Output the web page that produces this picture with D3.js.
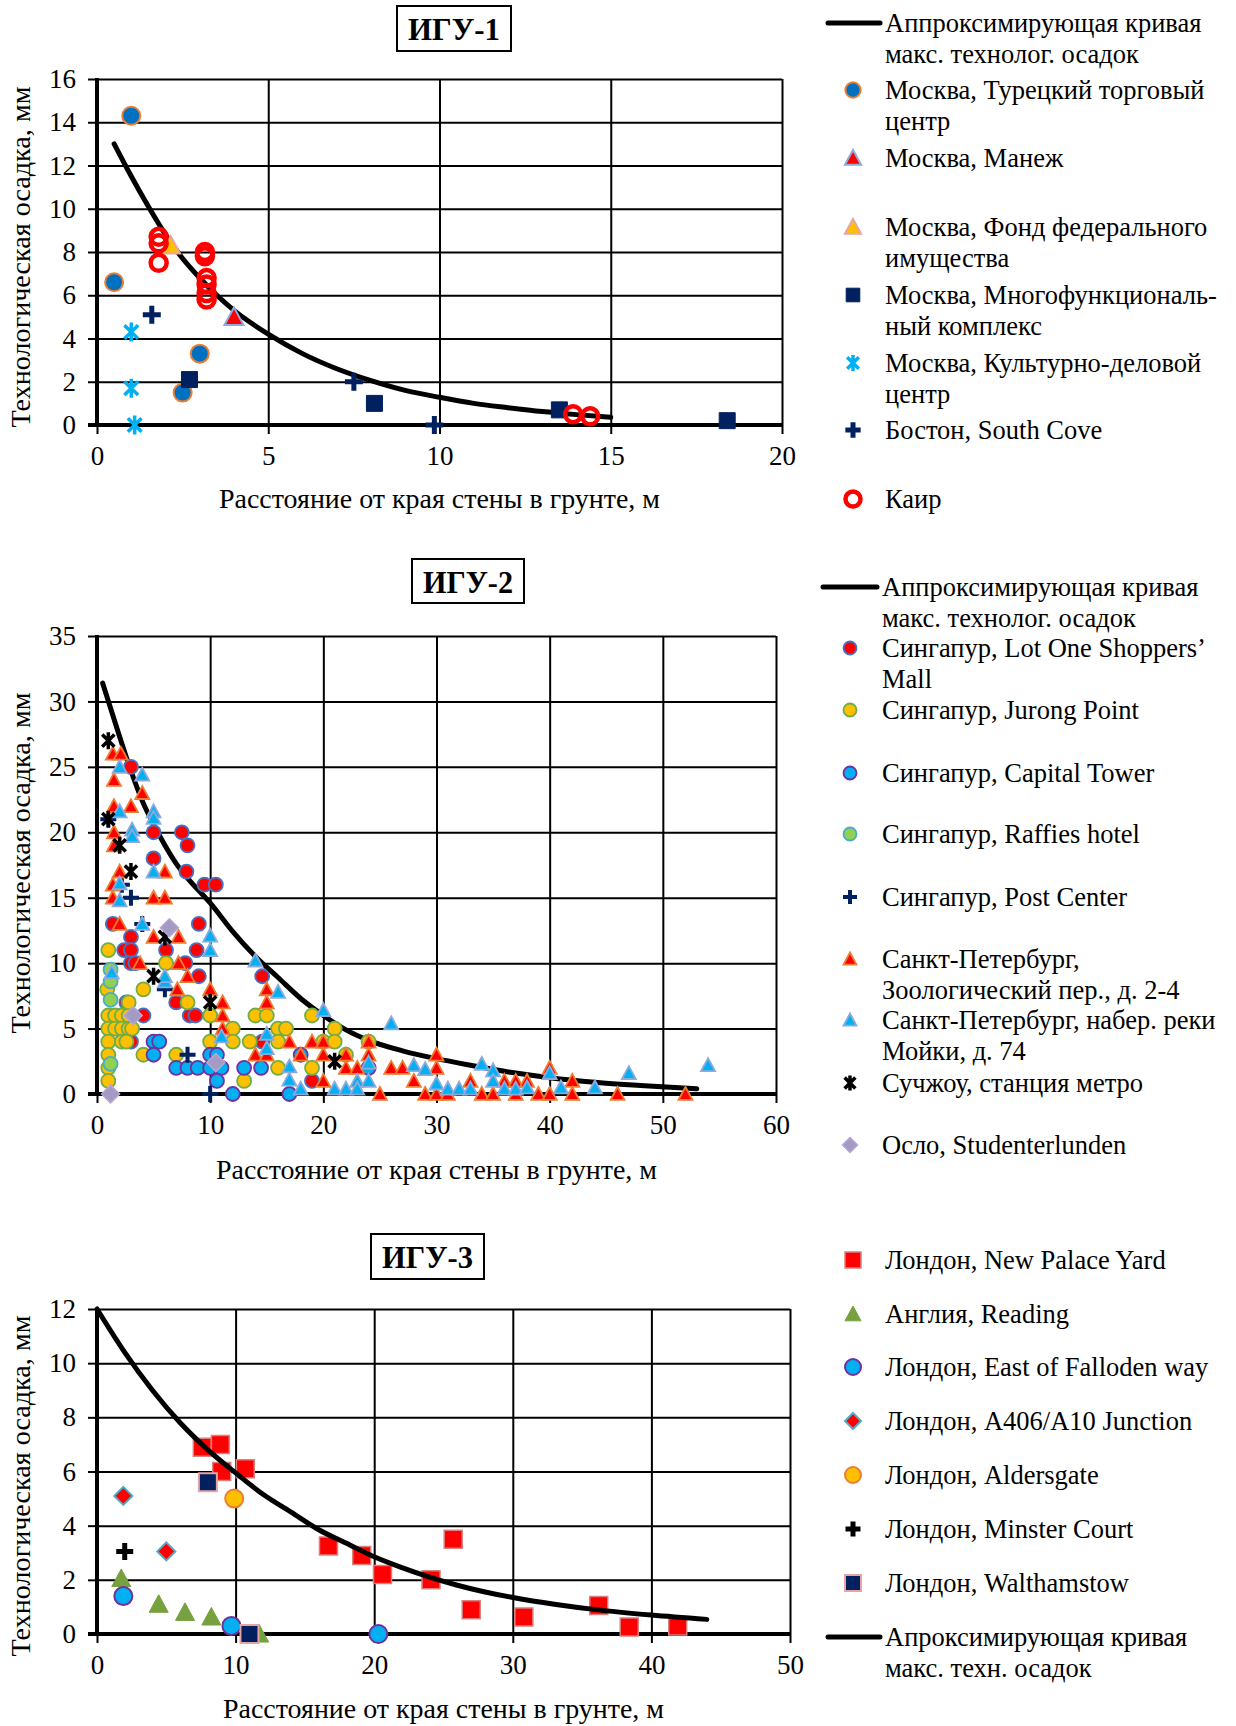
<!DOCTYPE html>
<html lang="ru">
<head>
<meta charset="UTF-8">
<title>Технологическая осадка — ИГУ-1, ИГУ-2, ИГУ-3</title>
<script src="https://d3js.org/d3.v7.min.js"></script>
<style>
  html, body { margin: 0; padding: 0; background: #fff; }
  svg { display: block; font-family: "Liberation Serif", "Times New Roman", serif; }
  svg text { font-family: "Liberation Serif", "Times New Roman", serif; }
</style>
</head>
<body>
<svg id="chart" width="1236" height="1726"></svg>
<script>
// ===== ИГУ-1 =====
const igu1XTicks = [0, 5, 10, 15, 20];
const igu1YTicks = [0, 2, 4, 6, 8, 10, 12, 14, 16];
const igu1CurveX = [0.5, 1, 1.5, 2, 2.5, 3, 3.5, 4, 5, 6, 7, 8, 9, 10, 11, 12, 13, 14, 15];
const igu1CurveY = [13.0, 11.5, 10.1, 8.8, 7.7, 6.8, 6.0, 5.3, 4.2, 3.3, 2.6, 2.05, 1.6, 1.28, 1.0, 0.8, 0.62, 0.48, 0.36];
const turkX = [1.0, 0.5, 3.0, 2.5];
const turkY = [14.3, 6.6, 3.3, 1.5];
const manegeX = [4.0];
const manegeY = [5.0];
const fondX = [2.15];
const fondY = [8.3];
const multiX = [2.7, 8.1, 13.5, 18.4];
const multiY = [2.1, 1.0, 0.7, 0.2];
const kultX = [1.0, 1.0, 1.1];
const kultY = [4.3, 1.7, 0.0];
const bostonX = [1.6, 7.5, 9.85];
const bostonY = [5.1, 2.0, 0.0];
const cairoX = [1.8, 1.8, 1.8, 3.15, 3.15, 3.2, 3.2, 3.2, 3.2, 13.9, 14.4];
const cairoY = [8.7, 8.4, 7.5, 8.0, 7.8, 6.8, 6.5, 6.1, 5.8, 0.5, 0.4];

// ===== ИГУ-2 =====
const igu2XTicks = [0, 10, 20, 30, 40, 50, 60];
const igu2YTicks = [0, 5, 10, 15, 20, 25, 30, 35];
const igu2CurveX = [0.5, 2, 3, 4, 5, 6, 7, 8, 10, 12, 14, 16, 18, 20, 22, 24, 27, 30, 33, 37, 40, 44, 48, 53];
const igu2CurveY = [31.4, 27.3, 24.7, 22.4, 20.6, 19.0, 17.6, 16.5, 14.6, 12.4, 10.5, 8.9, 7.3, 6.0, 4.9, 4.1, 3.3, 2.7, 2.2, 1.6, 1.25, 0.9, 0.65, 0.4];
const lotOneX = [3, 5, 7.5, 8, 5, 7.9, 9.5, 10.5, 1.4, 9, 3, 2.4, 3, 6.1, 8.8, 3, 3.4, 7.8, 9, 14.6, 7, 2.6, 8.2, 8.7, 4.1, 3, 14.6, 19];
const lotOneY = [25, 20, 20, 19, 18, 17, 16, 16, 13, 13, 12, 11, 11, 11, 11, 10, 10, 10, 9, 9, 7, 7, 6, 6, 6, 4, 4, 1];
const jurongX = [1, 0.9, 1, 1, 1, 1, 1, 1, 1.6, 2.2, 2.8, 1.6, 2.2, 2.8, 2.2, 2.6, 2.8, 3.1, 4.1, 4.1, 6.1, 7, 8, 10, 10, 12, 12, 13, 13.5, 14, 15, 16, 16.7, 16, 16, 19, 19, 20, 21, 21, 22, 24];
const jurongY = [11, 8, 6, 5, 4, 3, 2, 1, 6, 6, 6, 5, 5, 5, 4, 4, 7, 5, 8, 3, 10, 3, 7, 6, 4, 5, 4, 1, 4, 6, 6, 5, 5, 4, 2, 6, 2, 4, 5, 4, 3, 4];
const capitalX = [5, 5.5, 5, 7, 8, 8.9, 10, 10.6, 10, 11, 10.6, 12, 13, 14.5, 17, 18, 24];
const capitalY = [4, 4, 3, 2, 2, 2, 3, 3, 2, 2, 1, 0, 2, 2, 0, 3, 2];
const rafflesX = [1.2, 1.2, 1.2, 1.2];
const rafflesY = [9.5, 8.6, 7.2, 2.3];
const postX = [1, 2.2, 3, 4, 6, 8, 10];
const postY = [21, 16, 15, 13, 8, 3, 0];
const zooX = [1.4, 2.1, 1.5, 4, 1.5, 3, 1.5, 1.5, 2, 6, 1.4, 1.4, 5, 6, 2, 5, 7.2, 3.8, 7.2, 8, 7.1, 10, 11.1, 11.1, 11.1, 15, 15, 14, 15, 17, 18, 19, 20, 20, 20, 22, 22, 23, 24, 24, 25, 26, 27, 28, 29, 30, 30, 30, 31, 33, 34, 35, 36, 37, 37, 38, 39, 40, 40, 42, 42, 46, 52];
const zooY = [26, 26, 24, 23, 22, 22, 20, 19, 17, 17, 16, 15, 15, 15, 13, 12, 12, 10, 10, 9, 8, 8, 7, 6, 5, 8, 7, 3, 3, 4, 3, 4, 4, 3, 1, 3, 2, 2, 4, 3, 0, 2, 2, 1, 0, 3, 2, 0, 0, 1, 0, 0, 1, 1, 0, 1, 0, 2, 0, 1, 0, 0, 0];
const moykaX = [2, 4, 2, 3.1, 3.1, 5, 5, 5, 2, 2, 4, 6, 6, 1.3, 10, 10, 11, 14, 16, 20, 26, 15, 15, 17, 17, 18, 21, 22, 23, 23, 24, 24, 28, 29, 30, 31, 32, 33, 34, 35, 35, 36, 37, 38, 40, 41, 44, 47, 54];
const moykaY = [25, 24.4, 21.6, 20.2, 19.7, 21.6, 21.1, 17, 16.1, 14.8, 13, 8.6, 9, 9.3, 12.1, 11, 4.4, 10.2, 7.8, 6.4, 5.4, 4.6, 3.5, 2.1, 1.1, 0.4, 0.4, 0.4, 1.0, 0.4, 2.4, 1.0, 2.2, 1.9, 0.8, 0.4, 0.4, 0.4, 2.3, 1.8, 1.0, 0.4, 0.4, 0.5, 1.6, 0.5, 0.5, 1.6, 2.2];
const suzhouX = [1, 1, 2, 3, 5, 6, 10, 21];
const suzhouY = [27, 21, 19, 17, 9, 12, 7, 2.5];
const osloX = [1.2, 3.2, 6.4, 10.5];
const osloY = [0, 6, 12.7, 2.4];

// ===== ИГУ-3 =====
const igu3XTicks = [0, 10, 20, 30, 40, 50];
const igu3YTicks = [0, 2, 4, 6, 8, 10, 12];
const igu3CurveX = [0, 2, 4, 6, 8, 10, 12, 14, 16, 18, 20, 22, 24, 26, 28, 30, 33, 36, 40, 44];
const igu3CurveY = [12, 10.4, 9.0, 7.8, 6.8, 5.95, 5.15, 4.5, 3.85, 3.35, 2.85, 2.45, 2.1, 1.8, 1.55, 1.35, 1.1, 0.9, 0.7, 0.54];
const palaceX = [7.6, 8.9, 9.0, 10.7, 16.7, 19.1, 20.6, 24.1, 25.7, 27.0, 30.8, 36.2, 38.4, 41.9];
const palaceY = [6.9, 7.0, 6.0, 6.1, 3.25, 2.9, 2.2, 2.0, 3.5, 0.9, 0.63, 1.05, 0.26, 0.3];
const readingX = [1.75, 4.45, 6.35, 8.25, 11.7];
const readingY = [2.05, 1.1, 0.8, 0.63, 0.0];
const fallodenX = [1.9, 9.7, 20.3];
const fallodenY = [1.4, 0.3, 0.0];
const a406X = [1.9, 5.0];
const a406Y = [5.1, 3.05];
const aldersX = [9.9];
const aldersY = [5.0];
const minsterX = [2.0];
const minsterY = [3.05];
const walthamX = [8.0, 11.0];
const walthamY = [5.6, 0.0];

// ---------- drawing ----------
const svg = d3.select("#chart");
const FONT = '"Liberation Serif", "Times New Roman", serif';

function shapePath(type, s) {
  const h = s / 2;
  switch (type) {
    case "circle": return d3.symbol(d3.symbolCircle, Math.PI * h * h)();
    case "square": return `M${-h},${-h}H${h}V${h}H${-h}Z`;
    case "triangle": return `M0,${-h}L${h},${h * 0.85}L${-h},${h * 0.85}Z`;
    case "diamond": return `M0,${-h}L${h},0L0,${h}L${-h},0Z`;
    case "plus": return `M${-h},0H${h}M0,${-h}V${h}`;
    case "star": { const a = h * 0.72; return `M0,${-h}V${h}M${-a},${-a}L${a},${a}M${-a},${a}L${a},${-a}`; }
  }
}

function zip(xs, ys) { return xs.map((x, i) => [x, ys[i]]); }

function drawMarker(sel, st, size) {
  const open = st.shape === "plus" || st.shape === "star";
  sel.attr("d", shapePath(st.shape, size))
    .attr("fill", open ? "none" : st.fill)
    .attr("stroke", st.stroke)
    .attr("stroke-width", st.sw)
    .attr("stroke-linejoin", "miter");
}

function drawPanel(p) {
  const x = d3.scaleLinear().domain(p.xDomain).range([p.left, p.right]);
  const y = d3.scaleLinear().domain(p.yDomain).range([p.bottom, p.top]);
  const g = svg.append("g");

  // grid
  const gx = g.append("g").attr("transform", `translate(0,${p.bottom})`)
    .call(d3.axisBottom(x).tickValues(p.xTicks).tickSize(-(p.bottom - p.top)).tickFormat(""));
  const gy = g.append("g").attr("transform", `translate(${p.left},0)`)
    .call(d3.axisLeft(y).tickValues(p.yTicks).tickSize(-(p.right - p.left)).tickFormat(""));
  [gx, gy].forEach(a => {
    a.select(".domain").remove();
    a.selectAll("line").attr("stroke", "#000").attr("stroke-width", 2);
  });

  // axes with labels
  const ax = g.append("g").attr("transform", `translate(0,${p.bottom})`)
    .call(d3.axisBottom(x).tickValues(p.xTicks).tickSize(9).tickPadding(12));
  const ay = g.append("g").attr("transform", `translate(${p.left},0)`)
    .call(d3.axisLeft(y).tickValues(p.yTicks).tickSize(9).tickPadding(12));
  [ax, ay].forEach(a => {
    a.attr("font-family", FONT).attr("font-size", 27);
    a.select(".domain").remove();
    a.selectAll("line").attr("stroke", "#000").attr("stroke-width", 2);
    a.selectAll("text").attr("fill", "#000").style("font-family", FONT).style("font-size", "27px");
  });

  g.append("line").attr("x1", x(0)).attr("x2", x(0)).attr("y1", p.top - 1).attr("y2", p.bottom + 2)
    .attr("stroke", "#000").attr("stroke-width", 4);
  g.append("line").attr("x1", p.left - 9).attr("x2", p.right + 1).attr("y1", y(0)).attr("y2", y(0))
    .attr("stroke", "#000").attr("stroke-width", 4);

  const line = d3.line().x(d => x(d[0])).y(d => y(d[1])).curve(d3.curveMonotoneX);
  const drawCurve = () => g.append("path").datum(zip(p.curveX, p.curveY))
    .attr("d", line).attr("fill", "none").attr("stroke", "#000")
    .attr("stroke-width", 5).attr("stroke-linecap", "round");

  if (!p.curveOnTop) drawCurve();
  p.series.forEach(st => {
    g.append("g").selectAll("path").data(zip(st.xs, st.ys)).join("path")
      .attr("transform", d => `translate(${x(d[0])},${y(d[1])})`)
      .call(drawMarker, st, st.size);
  });
  if (p.curveOnTop) drawCurve();

  // title box
  const tb = p.titleBox;
  g.append("rect").attr("x", tb.x).attr("y", tb.y).attr("width", tb.w).attr("height", tb.h)
    .attr("fill", "#fff").attr("stroke", "#000").attr("stroke-width", 2);
  g.append("text").attr("x", tb.x + tb.w / 2).attr("y", tb.y + tb.h / 2).attr("dy", "0.36em")
    .attr("text-anchor", "middle").attr("font-weight", "bold").attr("font-size", 32)
    .attr("textLength", tb.w - 22).attr("lengthAdjust", "spacingAndGlyphs")
    .text(p.title);

  // axis titles
  g.append("text").attr("x", (p.left + p.right) / 2).attr("y", p.xTitleY).attr("dy", "0.35em")
    .attr("text-anchor", "middle").attr("font-size", 28)
    .attr("textLength", 441).attr("lengthAdjust", "spacingAndGlyphs")
    .text("Расстояние от края стены в грунте, м");
  g.append("text").attr("transform", `translate(20,${p.yTitleY}) rotate(-90)`).attr("dy", "0.35em")
    .attr("text-anchor", "middle").attr("font-size", 28)
    .attr("textLength", 341).attr("lengthAdjust", "spacingAndGlyphs")
    .text("Технологическая осадка, мм");

  // legend
  const lg = p.legend;
  lg.items.forEach(it => {
    if (it.curve) {
      g.append("line").attr("x1", lg.lineX1).attr("x2", lg.lineX2).attr("y1", it.y).attr("y2", it.y)
        .attr("stroke", "#000").attr("stroke-width", 5).attr("stroke-linecap", "round");
    } else {
      g.append("path").attr("transform", `translate(${lg.markerX},${it.y})`)
        .call(drawMarker, it.st, it.st.legendSize || it.st.size * 0.85);
    }
    it.lines.forEach((t, i) => {
      g.append("text").attr("x", lg.textX).attr("y", it.y + i * 31).attr("dy", "0.35em")
        .attr("font-size", 26.5).attr("fill", "#000").text(t);
    });
  });
}

// styles
const sTurk = { xs: turkX, ys: turkY, shape: "circle", size: 18, fill: "#0070C0", stroke: "#ED7D31", sw: 2 };
const sManege = { xs: manegeX, ys: manegeY, shape: "triangle", size: 19, fill: "#FF0000", stroke: "#8EA9DB", sw: 2 };
const sFond = { xs: fondX, ys: fondY, shape: "triangle", size: 19, fill: "#FFC000", stroke: "#E6A5A5", sw: 2 };
const sMulti = { xs: multiX, ys: multiY, shape: "square", size: 16, fill: "#002060", stroke: "#002060", sw: 1 };
const sKult = { xs: kultX, ys: kultY, shape: "star", size: 19, fill: "none", stroke: "#00B0F0", sw: 3.5 };
const sBoston = { xs: bostonX, ys: bostonY, shape: "plus", size: 18, fill: "none", stroke: "#002060", sw: 5 };
const sCairo = { xs: cairoX, ys: cairoY, shape: "circle", size: 16, fill: "none", stroke: "#FF0000", sw: 4.5, legendSize: 15 };

const sLot = { xs: lotOneX, ys: lotOneY, shape: "circle", size: 14, fill: "#FF0000", stroke: "#4472C4", sw: 1.8, legendSize: 13 };
const sJur = { xs: jurongX, ys: jurongY, shape: "circle", size: 14, fill: "#FFC000", stroke: "#70AD47", sw: 1.8, legendSize: 13 };
const sCap = { xs: capitalX, ys: capitalY, shape: "circle", size: 14, fill: "#00B0F0", stroke: "#7030A0", sw: 1.8, legendSize: 13 };
const sRaf = { xs: rafflesX, ys: rafflesY, shape: "circle", size: 14, fill: "#92D050", stroke: "#4BACC6", sw: 1.8, legendSize: 13 };
const sPost = { xs: postX, ys: postY, shape: "plus", size: 16, fill: "none", stroke: "#002060", sw: 4, legendSize: 14 };
const sZoo = { xs: zooX, ys: zooY, shape: "triangle", size: 14, fill: "#FF0000", stroke: "#ED7D31", sw: 1.8, legendSize: 13 };
const sMoy = { xs: moykaX, ys: moykaY, shape: "triangle", size: 14, fill: "#00B0F0", stroke: "#8EA9DB", sw: 1.8, legendSize: 13 };
const sSuz = { xs: suzhouX, ys: suzhouY, shape: "star", size: 17, fill: "none", stroke: "#000", sw: 3.5, legendSize: 15 };
const sOslo = { xs: osloX, ys: osloY, shape: "diamond", size: 18, fill: "#A49BC4", stroke: "#B4A7D6", sw: 1.5, legendSize: 15 };

const sPalace = { xs: palaceX, ys: palaceY, shape: "square", size: 18, fill: "#FF0000", stroke: "#D98080", sw: 1.5, legendSize: 16 };
const sReading = { xs: readingX, ys: readingY, shape: "triangle", size: 19, fill: "#77A03F", stroke: "#77A03F", sw: 1, legendSize: 16 };
const sFalloden = { xs: fallodenX, ys: fallodenY, shape: "circle", size: 18, fill: "#00B0F0", stroke: "#7030A0", sw: 2, legendSize: 16 };
const sA406 = { xs: a406X, ys: a406Y, shape: "diamond", size: 18, fill: "#FF0000", stroke: "#4BACC6", sw: 2, legendSize: 16 };
const sAlders = { xs: aldersX, ys: aldersY, shape: "circle", size: 18, fill: "#FFC000", stroke: "#ED7D31", sw: 2, legendSize: 16 };
const sMinster = { xs: minsterX, ys: minsterY, shape: "plus", size: 17, fill: "none", stroke: "#000", sw: 5, legendSize: 15 };
const sWaltham = { xs: walthamX, ys: walthamY, shape: "square", size: 18, fill: "#002060", stroke: "#E6A5A5", sw: 2, legendSize: 16 };

drawPanel({
  title: "ИГУ-1", xDomain: [0, 20], yDomain: [0, 16], xTicks: igu1XTicks, yTicks: igu1YTicks,
  left: 97, right: 782, top: 79, bottom: 425,
  curveX: igu1CurveX, curveY: igu1CurveY, curveOnTop: false,
  series: [sTurk, sManege, sFond, sMulti, sKult, sBoston, sCairo],
  titleBox: { x: 397, y: 6, w: 114, h: 45 }, xTitleY: 498, yTitleY: 257,
  legend: { lineX1: 828, lineX2: 880, markerX: 853, textX: 885, items: [
    { curve: true, y: 23, lines: ["Аппроксимирующая кривая", "макс. технолог. осадок"] },
    { st: sTurk, y: 90, lines: ["Москва, Турецкий торговый", "центр"] },
    { st: sManege, y: 158, lines: ["Москва, Манеж"] },
    { st: sFond, y: 227, lines: ["Москва, Фонд федерального", "имущества"] },
    { st: sMulti, y: 295, lines: ["Москва, Многофункциональ-", "ный комплекс"] },
    { st: sKult, y: 363, lines: ["Москва, Культурно-деловой", "центр"] },
    { st: sBoston, y: 430, lines: ["Бостон, South Cove"] },
    { st: sCairo, y: 499, lines: ["Каир"] }
  ] }
});

drawPanel({
  title: "ИГУ-2", xDomain: [0, 60], yDomain: [0, 35], xTicks: igu2XTicks, yTicks: igu2YTicks,
  left: 97, right: 776, top: 636, bottom: 1094,
  curveX: igu2CurveX, curveY: igu2CurveY, curveOnTop: false,
  series: [sLot, sJur, sCap, sRaf, sPost, sZoo, sMoy, sSuz, sOslo],
  titleBox: { x: 412, y: 559, w: 112, h: 44 }, xTitleY: 1169, yTitleY: 863,
  legend: { lineX1: 823, lineX2: 877, markerX: 850, textX: 882, items: [
    { curve: true, y: 587, lines: ["Аппроксимирующая кривая", "макс. технолог. осадок"] },
    { st: sLot, y: 648, lines: ["Сингапур, Lot One Shoppers’", "Mall"] },
    { st: sJur, y: 710, lines: ["Сингапур, Jurong Point"] },
    { st: sCap, y: 773, lines: ["Сингапур, Capital Tower"] },
    { st: sRaf, y: 834, lines: ["Сингапур, Raffies hotel"] },
    { st: sPost, y: 897, lines: ["Сингапур, Post Center"] },
    { st: sZoo, y: 959, lines: ["Санкт-Петербург,", "Зоологический пер., д. 2-4"] },
    { st: sMoy, y: 1020, lines: ["Санкт-Петербург, набер. реки", "Мойки, д. 74"] },
    { st: sSuz, y: 1083, lines: ["Сучжоу, станция метро"] },
    { st: sOslo, y: 1145, lines: ["Осло, Studenterlunden"] }
  ] }
});

drawPanel({
  title: "ИГУ-3", xDomain: [0, 50], yDomain: [0, 12], xTicks: igu3XTicks, yTicks: igu3YTicks,
  left: 97, right: 790, top: 1309, bottom: 1634,
  curveX: igu3CurveX, curveY: igu3CurveY, curveOnTop: true,
  series: [sPalace, sReading, sFalloden, sA406, sAlders, sMinster, sWaltham],
  titleBox: { x: 371, y: 1234, w: 113, h: 45 }, xTitleY: 1708, yTitleY: 1486,
  legend: { lineX1: 828, lineX2: 880, markerX: 853, textX: 885, items: [
    { st: sPalace, y: 1260, lines: ["Лондон, New Palace Yard"] },
    { st: sReading, y: 1314, lines: ["Англия, Reading"] },
    { st: sFalloden, y: 1367, lines: ["Лондон, East of Falloden way"] },
    { st: sA406, y: 1421, lines: ["Лондон, A406/A10 Junction"] },
    { st: sAlders, y: 1475, lines: ["Лондон, Aldersgate"] },
    { st: sMinster, y: 1529, lines: ["Лондон, Minster Court"] },
    { st: sWaltham, y: 1583, lines: ["Лондон, Walthamstow"] },
    { curve: true, y: 1637, lines: ["Апроксимирующая кривая", "макс. техн. осадок"] }
  ] }
});
</script>
</body>
</html>
